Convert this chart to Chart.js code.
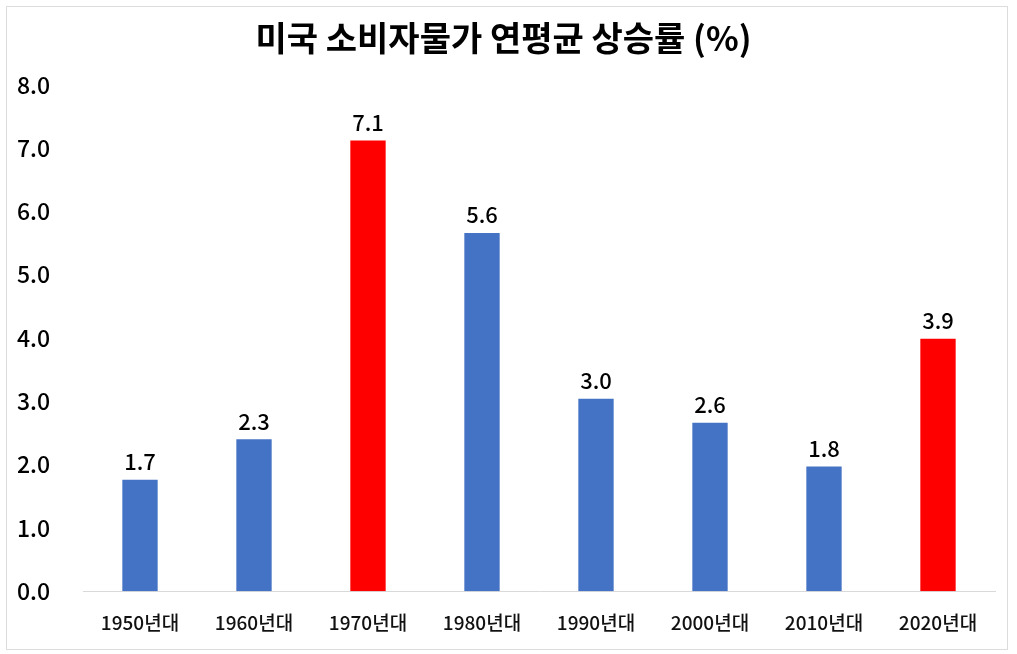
<!DOCTYPE html>
<html><head><meta charset="utf-8">
<script src="https://cdn.jsdelivr.net/npm/chart.js@4.4.1/dist/chart.umd.min.js"></script>
<style>
html,body{margin:0;padding:0;background:#fff;}
#wrap{position:absolute;left:0;top:0;width:1017px;height:654px;}
#frame{position:absolute;left:6px;top:6px;width:1000px;height:642px;border:1px solid #dcdcdc;pointer-events:none;}
</style></head>
<body>
<div id="wrap"><canvas id="c" width="1017" height="654"></canvas><div id="frame"></div></div>
<script>
const title = '미국 소비자물가 연평균 상승률 (%)';
const categories = ['1950년대','1960년대','1970년대','1980년대','1990년대','2000년대','2010년대','2020년대'];
const values = [1.76, 2.40, 7.12, 5.66, 3.04, 2.66, 1.97, 3.99];
const valueLabels = ['1.7','2.3','7.1','5.6','3.0','2.6','1.8','3.9'];
const highlighted = ['1970년대','2020년대'];
const yTicks = [0,1,2,3,4,5,6,7,8];

const FONT = '"Noto Sans CJK KR","Noto Sans",sans-serif';

const labelPlugin = {
  id:'valueLabels',
  afterDatasetsDraw(chart){
    const ctx = chart.ctx;
    const meta = chart.getDatasetMeta(0);
    ctx.save();
    ctx.font = '500 22px ' + FONT;
    ctx.fillStyle = '#000';
    ctx.textAlign = 'center';
    ctx.textBaseline = 'bottom';
    meta.data.forEach((bar,i)=>{
      ctx.fillText(valueLabels[i], bar.x, bar.y - 7);
    });
    ctx.restore();
  }
};

new Chart(document.getElementById('c'), {
  type:'bar',
  data:{
    labels:categories,
    datasets:[{
      data:values,
      backgroundColor:categories.map(c=>highlighted.includes(c)?'#FF0000':'#4472C4'),
      categoryPercentage:1,
      barPercentage:0.31
    }]
  },
  options:{
    responsive:false,
    animation:false,
    devicePixelRatio:1,
    layout:{padding:{left:12,right:22,top:8,bottom:8}},
    plugins:{
      legend:{display:false},
      tooltip:{enabled:false},
      title:{display:true,text:title,color:'#000',font:{family:FONT,size:34,weight:'bold'},padding:{top:10,bottom:26}}
    },
    scales:{
      x:{
        grid:{display:false},
        border:{display:true,color:'#d9d9d9',width:1},
        ticks:{color:'#111',font:{family:FONT,size:19,weight:'500'},padding:12,maxRotation:0}
      },
      y:{
        min:0,max:8,
        afterBuildTicks(scale){scale.ticks = yTicks.map(v=>({value:v}));},
        afterFit(scale){scale.width = 71;},
        grid:{display:false},
        border:{display:false},
        ticks:{color:'#000',font:{family:FONT,size:23,weight:'500'},padding:25,callback:v=>Number(v).toFixed(1)}
      }
    }
  },
  plugins:[labelPlugin]
});
</script>
</body></html>
